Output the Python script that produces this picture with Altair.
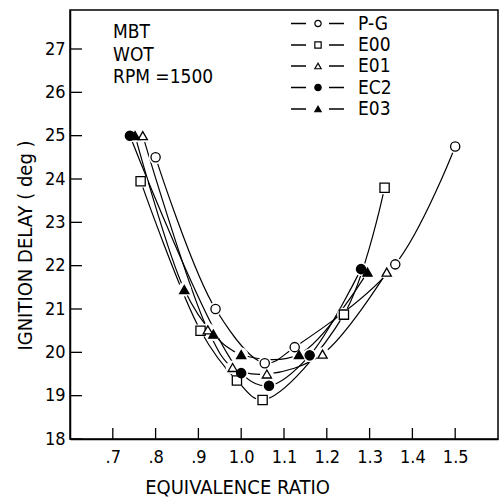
import altair as alt
import pandas as pd

# ---------------- data ----------------
series_names = ["P-G", "E00", "E01", "EC2", "E03"]
series_shapes = ["circle", "square", "triangle-up", "circle", "triangle-up"]
series_fills = ["white", "white", "white", "black", "black"]

pg_x = [0.80, 0.94, 1.055, 1.125, 1.36, 1.50]
pg_y = [24.5, 21.0, 19.75, 20.12, 22.03, 24.75]
e00_x = [0.765, 0.905, 0.99, 1.05, 1.24, 1.335]
e00_y = [23.95, 20.5, 19.35, 18.9, 20.87, 23.8]
e01_x = [0.77, 0.922, 0.98, 1.06, 1.19, 1.34]
e01_y = [25.0, 20.52, 19.65, 19.5, 19.96, 21.85]
ec2_x = [0.74, 1.0, 1.065, 1.16, 1.28]
ec2_y = [25.0, 19.52, 19.23, 19.93, 21.92]
e03_x = [0.752, 0.867, 0.935, 1.0, 1.135, 1.295]
e03_y = [25.0, 21.45, 20.42, 19.95, 19.95, 21.85]

x_tick_vals = [0.7, 0.8, 0.9, 1.0, 1.1, 1.2, 1.3, 1.4, 1.5]
x_tick_labels = [".7", ".8", ".9", "1.0", "1.1", "1.2", "1.3", "1.4", "1.5"]
y_tick_vals = [18, 19, 20, 21, 22, 23, 24, 25, 26, 27]

annot_lines = ["MBT", "WOT", "RPM =1500"]
x_title = "EQUIVALENCE RATIO"
y_title = "IGNITION DELAY ( deg )"

# ---------------- build table ----------------
xs = [pg_x, e00_x, e01_x, ec2_x, e03_x]
ys = [pg_y, e00_y, e01_y, ec2_y, e03_y]
rows = []
for name, sx, sy in zip(series_names, xs, ys):
    for a, b in zip(sx, sy):
        rows.append({"series": name, "x": a, "y": b})
df = pd.DataFrame(rows)

FONT = "Liberation Sans Narrow, DejaVu Sans Condensed, Liberation Sans, sans-serif"
W, H = 428, 429
XDOM = [0.6, 1.6]
YDOM = [18, 27.9]

label_expr = " : ".join(
    f"datum.value > {v - 0.01} && datum.value < {v + 0.01} ? '{l}'"
    for v, l in zip(x_tick_vals, x_tick_labels)
) + " : ''"

x_axis = alt.Axis(
    values=x_tick_vals, labelExpr=label_expr, ticks=False, grid=False,
    domainColor="black", domainWidth=1.5, labelFontSize=18, labelFont=FONT,
    labelColor="black", labelPadding=9, title=x_title, titleFont=FONT,
    titleFontSize=20, titleFontWeight="normal", titleColor="black",
    titleX=167, titleY=48, titleBaseline="middle", titleAlign="center",
)
y_axis = alt.Axis(
    values=y_tick_vals, ticks=False, grid=False, domainColor="black",
    domainWidth=1.5, labelFontSize=18, labelFont=FONT, labelColor="black",
    labelPadding=5, title=y_title, titleFont=FONT, titleFontSize=20,
    titleFontWeight="normal", titleColor="black", titleAngle=270,
    titleX=-45, titleY=235, titleBaseline="middle", titleAlign="center",
)

xs_scale = alt.Scale(domain=XDOM, nice=False, zero=False)
ys_scale = alt.Scale(domain=YDOM, nice=False, zero=False)

base = alt.Chart(df)

lines = base.mark_line(interpolate="catmull-rom", color="black", strokeWidth=1.2).encode(
    x=alt.X("x:Q", scale=xs_scale, axis=x_axis),
    y=alt.Y("y:Q", scale=ys_scale, axis=y_axis),
    detail="series:N",
)

halo = base.mark_point(filled=True, color="white", opacity=1, size=190).encode(
    x=alt.X("x:Q", scale=xs_scale),
    y=alt.Y("y:Q", scale=ys_scale),
)

markers = base.mark_point(filled=True, stroke="black", strokeWidth=1.3, opacity=1, size=85).encode(
    x=alt.X("x:Q", scale=xs_scale),
    y=alt.Y("y:Q", scale=ys_scale),
    shape=alt.Shape("series:N", scale=alt.Scale(domain=series_names, range=series_shapes), legend=None),
    fill=alt.Fill("series:N", scale=alt.Scale(domain=series_names, range=series_fills), legend=None),
)

xticks = alt.Chart(pd.DataFrame({"t": x_tick_vals})).mark_rule(color="black", strokeWidth=1.3).encode(
    x=alt.X("t:Q", scale=xs_scale), y=alt.value(H), y2=alt.value(H - 11),
)
yticks = alt.Chart(pd.DataFrame({"t": y_tick_vals})).mark_rule(color="black", strokeWidth=1.3).encode(
    y=alt.Y("t:Q", scale=ys_scale), x=alt.value(0), x2=alt.value(12),
)

layers = [lines, halo, markers, xticks, yticks]

# annotation text
annot_y = [22, 45, 67]
for t, yy in zip(annot_lines, annot_y):
    layers.append(
        alt.Chart(pd.DataFrame({"t": [t]})).mark_text(
            align="left", baseline="middle", fontSize=19, font=FONT, color="black"
        ).encode(text="t:N", x=alt.value(43), y=alt.value(yy))
    )

# custom legend
leg_y = [13.5, 35, 56, 77.5, 99]
for name, shp, fl, yy in zip(series_names, series_shapes, series_fills, leg_y):
    d = pd.DataFrame({"series": [name]})
    layers.append(alt.Chart(d).mark_rule(color="black", strokeWidth=1.5).encode(
        x=alt.value(221), x2=alt.value(236), y=alt.value(yy)))
    layers.append(alt.Chart(d).mark_rule(color="black", strokeWidth=1.5).encode(
        x=alt.value(259), x2=alt.value(274), y=alt.value(yy)))
    layers.append(alt.Chart(d).mark_point(shape=shp, filled=True, fill=fl, stroke="black",
                                          strokeWidth=1.2, opacity=1, size=40).encode(
        x=alt.value(248), y=alt.value(yy)))
    layers.append(alt.Chart(d).mark_text(align="left", baseline="middle", fontSize=19,
                                         font=FONT, color="black").encode(
        text="series:N", x=alt.value(288), y=alt.value(yy)))

chart = alt.layer(*layers).properties(
    width=W, height=H,
    autosize=alt.AutoSizeParams(type="none"),
    padding={"left": 70, "top": 10, "right": 2, "bottom": 62},
    background="white",
).configure_view(stroke="black", strokeWidth=1.5)

chart.save("out.html", embed_options={"renderer": "svg", "actions": False})
